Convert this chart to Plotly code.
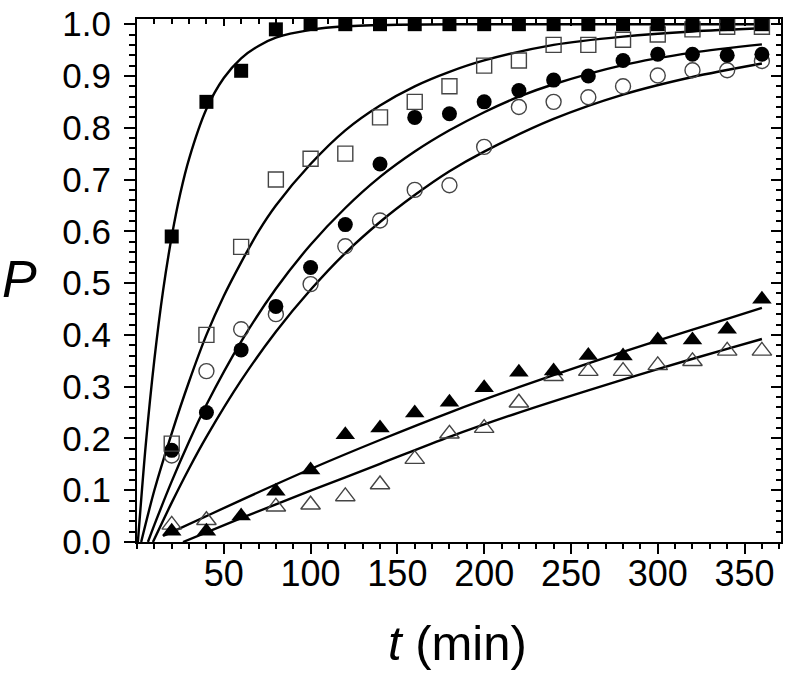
import plotly.graph_objects as go

# ---- data ----
t_pts = [20, 40, 60, 80, 100, 120, 140, 160, 180, 200, 220, 240, 260, 280, 300, 320, 340, 360]

sq_filled = [0.59, 0.85, 0.91, 0.99, 1.0, 1.0, 1.0, 1.0, 1.0, 1.0, 1.0, 1.0, 1.0, 1.0, 1.0, 1.0, 1.0, 1.0]
sq_open = [0.19, 0.40, 0.57, 0.70, 0.74, 0.75, 0.82, 0.85, 0.88, 0.92, 0.93, 0.96, 0.96, 0.97, 0.98, 0.99, 0.995, 0.995]
circ_filled = [0.177, 0.25, 0.371, 0.455, 0.53, 0.613, 0.73, 0.82, 0.827, 0.85, 0.872, 0.892, 0.90, 0.93, 0.942, 0.942, 0.94, 0.942]
circ_open = [0.167, 0.33, 0.411, 0.44, 0.498, 0.571, 0.621, 0.68, 0.689, 0.763, 0.84, 0.85, 0.859, 0.88, 0.901, 0.911, 0.911, 0.929]
tri_filled = [0.021, 0.021, 0.050, 0.098, 0.139, 0.207, 0.220, 0.249, 0.270, 0.298, 0.328, 0.330, 0.360, 0.359, 0.390, 0.390, 0.411, 0.469]
t_tri_open = [20, 40, 80, 100, 120, 140, 160, 180, 200, 220, 240, 260, 280, 300, 320, 340, 360]
tri_open = [0.033, 0.042, 0.068, 0.072, 0.088, 0.111, 0.160, 0.209, 0.220, 0.269, 0.320, 0.330, 0.330, 0.341, 0.349, 0.369, 0.369]

# fitted curves
fit_sq_filled_t = [0.5, 5, 10, 15, 20, 25, 30, 40, 50, 60, 70, 80, 100, 120, 150, 200, 360]
fit_sq_filled_p = [0, 0.186, 0.352, 0.485, 0.59, 0.674, 0.74, 0.836, 0.896, 0.934, 0.958, 0.974, 0.989, 0.996, 0.999, 1.0, 1.0]
fit_sq_open_t = [2.4, 10, 20, 30, 40, 50, 60, 70, 80, 100, 120, 140, 160, 180, 200, 240, 280, 320, 360]
fit_sq_open_p = [0, 0.10, 0.21, 0.31, 0.40, 0.475, 0.54, 0.60, 0.65, 0.73, 0.795, 0.843, 0.88, 0.908, 0.93, 0.96, 0.976, 0.986, 0.992]
fit_circ_filled_t = [6.3, 10, 20, 30, 40, 60, 80, 100, 120, 140, 160, 180, 200, 220, 240, 280, 320, 360]
fit_circ_filled_p = [0, 0.033, 0.117, 0.194, 0.265, 0.387, 0.489, 0.574, 0.645, 0.705, 0.754, 0.795, 0.83, 0.86, 0.884, 0.921, 0.945, 0.961]
fit_circ_open_t = [9.2, 20, 30, 40, 60, 80, 100, 120, 140, 160, 180, 200, 240, 280, 320, 360]
fit_circ_open_p = [0, 0.076, 0.142, 0.203, 0.312, 0.406, 0.487, 0.558, 0.618, 0.67, 0.716, 0.754, 0.817, 0.864, 0.898, 0.924]
fit_tri_filled_t = [15, 20, 60, 100, 140, 180, 220, 260, 300, 340, 360]
fit_tri_filled_p = [0.012, 0.019, 0.081, 0.141, 0.197, 0.250, 0.299, 0.345, 0.389, 0.431, 0.452]
fit_tri_open_t = [26.5, 60, 100, 140, 180, 220, 260, 300, 340, 360]
fit_tri_open_p = [0, 0.046, 0.099, 0.151, 0.203, 0.250, 0.293, 0.334, 0.373, 0.392]

x_ticks = [50, 100, 150, 200, 250, 300, 350]
y_ticks = [0.0, 0.1, 0.2, 0.3, 0.4, 0.5, 0.6, 0.7, 0.8, 0.9, 1.0]
y_ticktext = ["%.1f" % v for v in y_ticks]

X_RANGE = [0, 371]
Y_RANGE = [0, 1.01]
FONT = "Liberation Sans, Arial, sans-serif"
OPEN_COL = "#444444"

fig = go.Figure()

fits = [
    (fit_sq_filled_t, fit_sq_filled_p),
    (fit_sq_open_t, fit_sq_open_p),
    (fit_circ_filled_t, fit_circ_filled_p),
    (fit_circ_open_t, fit_circ_open_p),
    (fit_tri_filled_t, fit_tri_filled_p),
    (fit_tri_open_t, fit_tri_open_p),
]
for tx, py in fits:
    fig.add_trace(go.Scatter(x=tx, y=py, mode="lines",
                             line=dict(color="black", width=2.4, shape="spline", smoothing=0.8),
                             hoverinfo="skip", showlegend=False))

def add_markers(x, y, symbol, size, color, lw=0):
    fig.add_trace(go.Scatter(x=x, y=y, mode="markers", showlegend=False,
                             marker=dict(symbol=symbol, size=size, color=color,
                                         line=dict(width=lw, color=color))))

add_markers(t_tri_open, tri_open, "triangle-up-open", 17, OPEN_COL, 1.4)
add_markers(t_pts, tri_filled, "triangle-up", 17, "black")
add_markers(t_pts, circ_open, "circle-open", 15, OPEN_COL, 1.4)
add_markers(t_pts, circ_filled, "circle", 15, "black")
add_markers(t_pts, sq_open, "square-open", 15, OPEN_COL, 1.4)
add_markers(t_pts, sq_filled, "square", 14, "black")

# dummy trace for the mirrored (inward-tick) axes
fig.add_trace(go.Scatter(x=[None], y=[None], xaxis="x2", yaxis="y2",
                         showlegend=False, hoverinfo="skip"))

axis_common = dict(showgrid=False, zeroline=False, tickcolor="black", tickwidth=2,
                   automargin=False)

fig.update_layout(
    width=790, height=675,
    margin=dict(l=137, r=9, t=19, b=133, autoexpand=False),
    plot_bgcolor="white", paper_bgcolor="white",
    showlegend=False,
    font=dict(family=FONT, color="black"),
    xaxis=dict(range=X_RANGE, tickmode="array", tickvals=x_ticks,
               ticks="outside", ticklen=10, showline=True, linewidth=2,
               linecolor="black", mirror=True,
               tickfont=dict(size=36, family=FONT, color="black"),
               ticklabelstandoff=-11,
               minor=dict(tickmode="linear", tick0=0, dtick=10, ticks="outside",
                          ticklen=5, tickwidth=1.5, tickcolor="black", showgrid=False),
               **axis_common),
    yaxis=dict(range=Y_RANGE, tickmode="array", tickvals=y_ticks, ticktext=y_ticktext,
               ticks="outside", ticklen=11, showline=True, linewidth=2,
               linecolor="black", mirror=True,
               tickfont=dict(size=35, family=FONT, color="black"),
               ticklabelstandoff=6,
               minor=dict(tickmode="linear", tick0=0, dtick=0.02, ticks="outside",
                          ticklen=6, tickwidth=1.5, tickcolor="black", showgrid=False),
               **axis_common),
    xaxis2=dict(range=X_RANGE, overlaying="x", side="top", anchor="y",
                tickmode="array", tickvals=x_ticks, ticks="inside", ticklen=7,
                showticklabels=False, showline=False,
                minor=dict(tickmode="linear", tick0=0, dtick=10, ticks="inside",
                           ticklen=5, tickwidth=1.5, tickcolor="black", showgrid=False),
                **axis_common),
    yaxis2=dict(range=Y_RANGE, overlaying="y", side="right", anchor="x",
                tickmode="array", tickvals=y_ticks, ticks="inside", ticklen=10,
                showticklabels=False, showline=False,
                minor=dict(tickmode="linear", tick0=0, dtick=0.02, ticks="inside",
                           ticklen=5, tickwidth=1.5, tickcolor="black", showgrid=False),
                **axis_common),
    annotations=[
        dict(text="<i>P</i>", xref="paper", yref="paper", x=-0.182, y=0.503,
             xanchor="center", yanchor="middle", showarrow=False,
             font=dict(size=52, family=FONT, color="black")),
        dict(text="<i>t</i> (min)", xref="paper", yref="paper", x=0.497, y=-0.193,
             xanchor="center", yanchor="middle", showarrow=False,
             font=dict(size=49, family=FONT, color="black")),
    ],
)

fig.write_html("out.html", config={"displayModeBar": False},
               post_script="document.body.style.margin='0px';document.body.style.padding='0px';")
